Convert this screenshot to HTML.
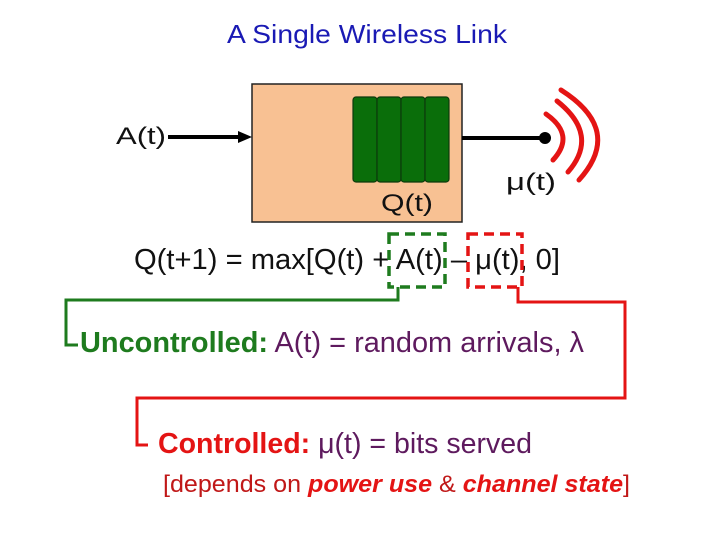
<!DOCTYPE html>
<html><head><style>html,body{margin:0;padding:0;background:#fff}svg{display:block}</style></head>
<body>
<svg width="720" height="540" viewBox="0 0 720 540" xmlns="http://www.w3.org/2000/svg" font-family="Liberation Sans, sans-serif">
<text x="367" y="43" text-anchor="middle" font-size="26" fill="#1a1ab4" textLength="280" lengthAdjust="spacingAndGlyphs">A Single Wireless Link</text>
<rect x="252" y="84" width="210" height="138" fill="#f8c193" stroke="#222" stroke-width="1.5"/>
<g fill="#0a6e0a" stroke="#0c3a0c" stroke-width="1.2">
<rect x="353" y="97" width="24" height="85" rx="3"/>
<rect x="377" y="97" width="24" height="85" rx="3"/>
<rect x="401" y="97" width="24" height="85" rx="3"/>
<rect x="425" y="97" width="24" height="85" rx="3"/>
</g>
<text x="116" y="144" font-size="24" fill="#111" textLength="50" lengthAdjust="spacingAndGlyphs">A(t)</text>
<line x1="168" y1="137" x2="240" y2="137" stroke="#000" stroke-width="4"/>
<polygon points="238,131 252,137 238,143" fill="#000"/>
<line x1="462" y1="138" x2="545" y2="138" stroke="#000" stroke-width="4"/>
<circle cx="545" cy="138" r="6" fill="#000"/>
<g fill="none" stroke="#e41414" stroke-width="5" stroke-linecap="round">
<path d="M546,114 Q576,135 553,160"/>
<path d="M557,101 Q600,135 568,172"/>
<path d="M561,90 Q624,130 579,180"/>
</g>
<text x="381" y="211" font-size="24" fill="#111" textLength="52" lengthAdjust="spacingAndGlyphs">Q(t)</text>
<text x="506" y="190" font-size="24" fill="#111" textLength="50" lengthAdjust="spacingAndGlyphs">μ(t)</text>
<text x="134" y="269" font-size="29" fill="#111" textLength="426" lengthAdjust="spacingAndGlyphs">Q(t+1) = max[Q(t) + A(t) – μ(t), 0]</text>
<rect x="389" y="234" width="56" height="53" fill="none" stroke="#1e7b1e" stroke-width="3.5" stroke-dasharray="10,6"/>
<rect x="468" y="234" width="54" height="53" fill="none" stroke="#e41414" stroke-width="3.5" stroke-dasharray="10,6"/>
<polyline points="398,287 398,300 66,300 66,345 78,345" fill="none" stroke="#1e7b1e" stroke-width="3"/>
<polyline points="518,287 518,302 625,302 625,398 137,398 137,445 148,445" fill="none" stroke="#e41414" stroke-width="3"/>
<text x="80" y="352" font-size="29" textLength="504" lengthAdjust="spacingAndGlyphs"><tspan font-weight="bold" fill="#1e7b1e">Uncontrolled:</tspan><tspan fill="#5e1a5e"> A(t) = random arrivals, λ</tspan></text>
<text x="158" y="453" font-size="29" textLength="374" lengthAdjust="spacingAndGlyphs"><tspan font-weight="bold" fill="#e41414">Controlled:</tspan><tspan fill="#5e1a5e"> μ(t) = bits served</tspan></text>
<text x="163" y="492" font-size="24" fill="#c01818" textLength="467" lengthAdjust="spacingAndGlyphs">[depends on <tspan font-weight="bold" font-style="italic" fill="#e41414">power use</tspan> &amp; <tspan font-weight="bold" font-style="italic" fill="#e41414">channel state</tspan>]</text>
</svg>
</body></html>
